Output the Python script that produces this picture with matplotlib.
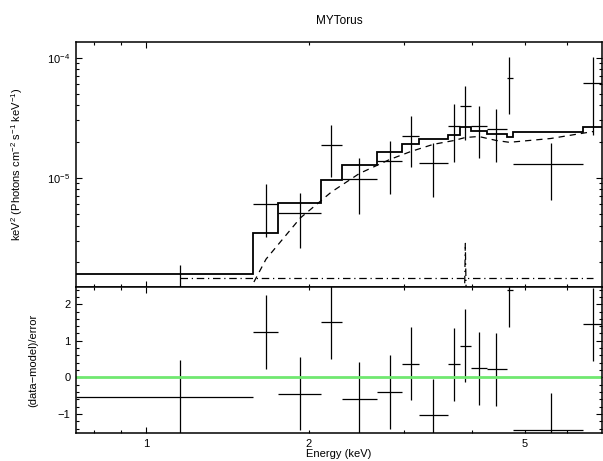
import numpy as np
import matplotlib
matplotlib.use("Agg")
import matplotlib.pyplot as plt
from matplotlib.ticker import FixedLocator, FixedFormatter, MultipleLocator

plt.rcParams['font.family'] = ['Liberation Sans', 'DejaVu Sans']
plt.rcParams['mathtext.fontset'] = 'custom'
plt.rcParams['mathtext.rm'] = 'Liberation Sans'
plt.rcParams['mathtext.it'] = 'Liberation Sans'

## Spectral bins (keV)
edges = [0.7425, 1.578, 1.755, 2.102, 2.298, 2.667, 2.973, 3.192,
         3.607, 3.801, 3.975, 4.258, 4.636, 4.768, 6.405, 6.97]
centers = [1.156, 1.666, 1.927, 2.199, 2.477, 2.818, 3.083, 3.394,
           3.705, 3.887, 4.116, 4.436, 4.688, 5.589, 6.699]

## Unfolded data, E^2 F (keV^2 photons cm^-2 s^-1 keV^-1)
flux    = [1.19e-6, 6.03e-6, 5.05e-6, 1.873e-5, 9.75e-6, 1.386e-5, 2.226e-5, 1.318e-5,
           2.713e-5, 3.958e-5, 2.713e-5, 2.531e-5, 6.81e-5, 1.293e-5, 6.19e-5]
flux_lo = [0.51e-6, 3.19e-6, 2.58e-6, 1.019e-5, 4.98e-6, 7.31e-6, 1.228e-5, 6.94e-6,
           1.359e-5, 2.061e-5, 1.468e-5, 1.359e-5, 3.375e-5, 6.52e-6, 2.269e-5]
flux_hi = [1.873e-6, 8.86e-6, 7.41e-6, 2.749e-5, 1.451e-5, 2.021e-5, 3.236e-5, 1.935e-5,
           4.113e-5, 5.84e-5, 3.958e-5, 3.715e-5, 1.019e-4, 1.935e-5, 1.008e-4]

## Total model (folded into bins)
model = [1.567e-6, 3.44e-6, 6.12e-6, 9.57e-6, 1.283e-5, 1.647e-5, 1.898e-5, 2.113e-5,
         2.283e-5, 2.645e-5, 2.449e-5, 2.299e-5, 2.171e-5, 2.416e-5, 2.63e-5]

## Model components at the bin centres
transmitted = [9.4e-8, 2.10e-6, 4.62e-6, 7.60e-6, 1.084e-5, 1.418e-5, 1.653e-5, 1.898e-5,
               2.042e-5, 2.163e-5, 2.205e-5, 2.042e-5, 1.972e-5, 2.122e-5, 2.427e-5]
scattered = [1.45e-6] * 15
line_e = [3.705, 3.887, 4.116]
line_f = [1e-12, 2.84e-6, 1e-12]

## Residuals (data-model)/error
resid = [-0.53, 1.24, -0.45, 1.51, -0.59, -0.40, 0.37, -1.04,
         0.36, 0.87, 0.25, 0.22, 2.39, -1.43, 1.45]

centers = np.array(centers)
edges = np.array(edges)
xerr = [centers - edges[:-1], edges[1:] - centers]
flux = np.array(flux)
yerr = [flux - np.array(flux_lo), np.array(flux_hi) - flux]

fig = plt.figure(figsize=(6.03, 4.61), dpi=100)
ax1 = fig.add_axes([0.126, 0.3774, 0.8723, 0.5315])
ax2 = fig.add_axes([0.126, 0.0607, 0.8723, 0.3167], sharex=ax1)

# Top panel: data, total model and components
ax1.errorbar(centers, flux, xerr=xerr, yerr=yerr, fmt='none', ecolor='k', elinewidth=0.9, capsize=0)
ax1.stairs(model, edges, baseline=None, color='k', lw=1.3)
ax1.plot(centers, transmitted, color='k', lw=0.9, ls=(0, (5, 4)))
ax1.plot(centers, scattered, color='k', lw=0.9, ls=(0, (6, 3, 1, 3)))
ax1.plot(line_e, line_f, color='k', lw=0.9, ls=(0, (6, 3, 1, 3)))

ax1.set_xscale('log')
ax1.set_yscale('log')
ax1.set_xlim(0.7425, 6.95)
ax1.set_ylim(1.23e-6, 1.35e-4)
ax1.set_title("MYTorus", fontsize=8.5, pad=13)
ax1.set_ylabel(r"keV$^2$ (Photons cm$^{-2}$ s$^{-1}$ keV$^{-1}$)", fontsize=8, labelpad=16)
ax1.set_yticks([1e-5, 1e-4])
ax1.set_yticklabels([r"10$^{-5}$", r"10$^{-4}$"])

# Bottom panel: residuals
ax2.errorbar(centers, resid, xerr=xerr, yerr=1.0, fmt='none', ecolor='k', elinewidth=0.9, capsize=0)
ax2.axhline(0, color='#70e870', lw=2)
ax2.set_ylim(-1.52, 2.47)
ax2.set_xlabel("Energy (keV)", fontsize=8, labelpad=0)
ax2.set_ylabel("(data\u2212model)/error", fontsize=8, labelpad=14)
ax2.yaxis.set_minor_locator(MultipleLocator(0.2))
ax2.yaxis.set_major_locator(FixedLocator([-1, 0, 1, 2]))
ax2.yaxis.set_major_formatter(FixedFormatter(["\u22121", "0", "1", "2"]))

# x ticks: major at 1, minor elsewhere with labels at 2 and 5
for ax in (ax1, ax2):
    ax.xaxis.set_major_locator(FixedLocator([1]))
    ax.xaxis.set_minor_locator(FixedLocator([0.8, 0.9, 2, 3, 4, 5, 6]))
    ax.tick_params(which='both', direction='in', top=True, right=True, labelsize=8, width=0.8)
    ax.tick_params(which='major', length=4.5, pad=4)
    ax.tick_params(which='minor', length=2.5)
    for s in ax.spines.values():
        s.set_linewidth(1.1)

plt.setp(ax1.get_xticklabels(which='both'), visible=False)
ax2.xaxis.set_major_formatter(FixedFormatter(["1"]))
ax2.xaxis.set_minor_formatter(FixedFormatter(["", "", "2", "", "", "5", ""]))
ax2.tick_params(axis='x', which='minor', labelsize=8, pad=4)
ax1.tick_params(axis='x', which='minor', labelbottom=False)

fig.savefig("out.png", dpi=100)
